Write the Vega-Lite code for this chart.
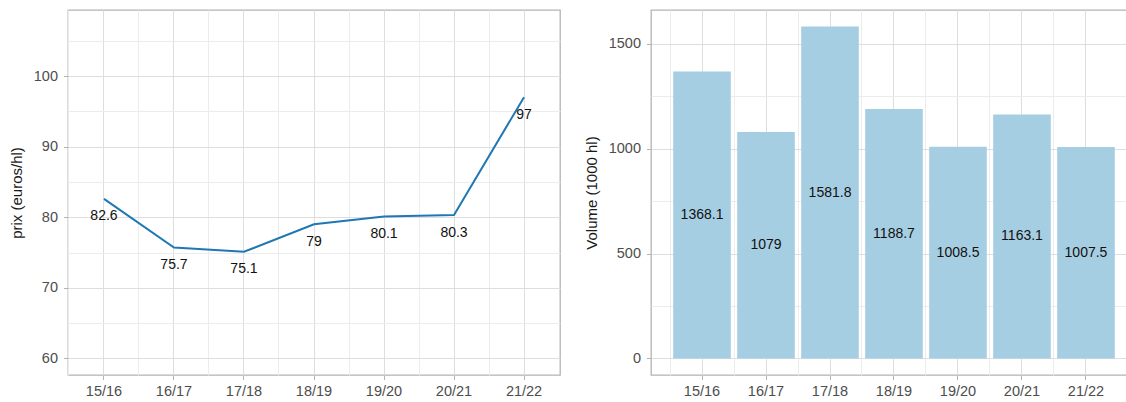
{
  "$schema": "https://vega.github.io/schema/vega-lite/v6.json",
  "padding": {"left": 8, "top": 9, "right": 0, "bottom": 0},
  "spacing": 22,
  "background": "white",
  "config": {
    "font": "Liberation Sans",
    "view": {"stroke": "#b3b3b3", "strokeWidth": 1.3},
    "axis": {
      "labelFont": "Liberation Sans",
      "labelFontSize": 14.5,
      "labelColor": "#4d4d4d",
      "titleFont": "Liberation Sans",
      "titleFontSize": 15,
      "titleFontWeight": "normal",
      "titleColor": "#1a1a1a",
      "tickColor": "#b3b3b3",
      "tickSize": 4.5,
      "tickWidth": 1,
      "domain": false,
      "gridColor": "#dedede",
      "gridWidth": 1
    }
  },
  "hconcat": [
    {
      "width": 492,
      "height": 365,
      "data": {"values": [
        {"campagne": "15/16", "prix": 82.6},
        {"campagne": "16/17", "prix": 75.7},
        {"campagne": "17/18", "prix": 75.1},
        {"campagne": "18/19", "prix": 79},
        {"campagne": "19/20", "prix": 80.1},
        {"campagne": "20/21", "prix": 80.3},
        {"campagne": "21/22", "prix": 97}
      ]},
      "encoding": {
        "y": {
          "field": "prix", "type": "quantitative",
          "scale": {"domain": [57.65, 109.35], "nice": false, "zero": false},
          "axis": {
            "title": "prix (euros/hl)",
            "values": [60, 65, 70, 75, 80, 85, 90, 95, 100, 105],
            "labelExpr": "datum.value % 10 === 0 ? datum.label : ''",
            "labelPadding": 6,
            "titlePadding": 9,
            "tickOpacity": {"condition": {"test": "datum.value % 10 !== 0", "value": 0}, "value": 1},
            "gridColor": {"condition": {"test": "datum.value % 10 !== 0", "value": "#ececec"}, "value": "#dedede"}
          }
        }
      },
      "layer": [
        {
          "mark": {"type": "line", "color": "#1f78b4", "strokeWidth": 2},
          "encoding": {
            "x": {
              "field": "campagne", "type": "nominal", "sort": null, "bandPosition": 0.5,
              "scale": {"type": "band", "paddingInner": 0, "paddingOuter": 0.014},
              "axis": {"orient": "top", "labels": false, "ticks": false, "domain": false, "title": null,
                       "grid": true, "bandPosition": 0, "gridColor": "#ececec", "minExtent": 0, "maxExtent": 0}
            }
          }
        },
        {
          "mark": {"type": "text", "dy": 17.6, "baseline": "middle", "align": "center", "fontSize": 14, "color": "#111111", "font": "Liberation Sans"},
          "encoding": {
            "x": {
              "field": "campagne", "type": "nominal", "sort": null, "bandPosition": 0.5,
              "axis": {"orient": "bottom", "title": null, "grid": true, "bandPosition": 0.5, "labelAngle": 0, "labelPadding": 5}
            },
            "text": {"field": "prix", "type": "nominal"}
          }
        }
      ],
      "resolve": {"axis": {"x": "independent"}}
    },
    {
      "width": 486,
      "height": 365,
      "data": {"values": [
        {"campagne": "15/16", "volume": 1368.1},
        {"campagne": "16/17", "volume": 1079},
        {"campagne": "17/18", "volume": 1581.8},
        {"campagne": "18/19", "volume": 1188.7},
        {"campagne": "19/20", "volume": 1008.5},
        {"campagne": "20/21", "volume": 1163.1},
        {"campagne": "21/22", "volume": 1007.5}
      ]},
      "layer": [
        {
          "mark": {"type": "bar", "color": "#a6cee3"},
          "encoding": {
            "x": {
              "field": "campagne", "type": "nominal", "sort": null,
              "scale": {"type": "band", "paddingInner": 0.1, "paddingOuter": 0.347},
              "axis": {"orient": "bottom", "title": null, "grid": true, "bandPosition": 0.5, "labelAngle": 0, "labelPadding": 5}
            },
            "y": {
              "field": "volume", "type": "quantitative",
              "scale": {"domain": [-79.09, 1660.9], "nice": false, "zero": true},
              "axis": {
                "title": "Volume (1000 hl)",
                "values": [0, 250, 500, 750, 1000, 1250, 1500],
                "labelExpr": "datum.value % 500 === 0 ? datum.label : ''",
                "format": "d",
                "labelPadding": 6,
                "titlePadding": 9,
                "tickOpacity": {"condition": {"test": "datum.value % 500 !== 0", "value": 0}, "value": 1},
                "gridColor": {"condition": {"test": "datum.value % 500 !== 0", "value": "#ececec"}, "value": "#dedede"}
              }
            }
          }
        },
        {
          "mark": {"type": "text", "baseline": "middle", "align": "center", "fontSize": 14, "color": "#111111", "font": "Liberation Sans"},
          "encoding": {
            "x": {
              "field": "campagne", "type": "nominal", "sort": null, "bandPosition": 0.5,
              "axis": {"orient": "top", "labels": false, "ticks": false, "domain": false, "title": null,
                       "grid": true, "bandPosition": -0.0556, "gridColor": "#ececec", "minExtent": 0, "maxExtent": 0}
            },
            "y": {
              "field": "volume", "type": "quantitative",
              "scale": {"domain": [-158.18, 3321.8], "nice": false, "zero": true},
              "axis": null
            },
            "text": {"field": "volume", "type": "nominal"}
          }
        }
      ],
      "resolve": {"axis": {"x": "independent"}, "scale": {"y": "independent"}}
    }
  ]
}
